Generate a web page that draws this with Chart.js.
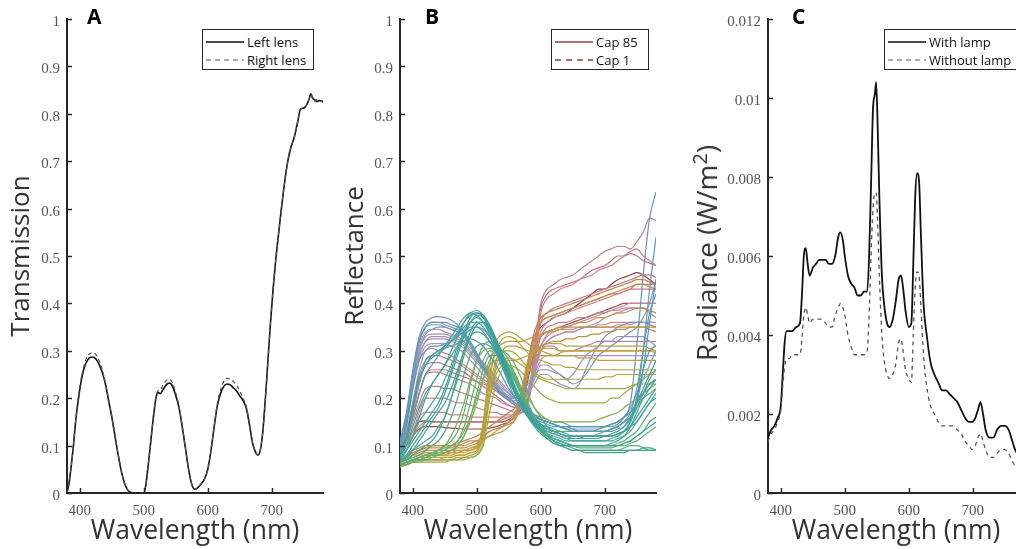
<!DOCTYPE html>
<html><head><meta charset="utf-8">
<script src="https://cdn.jsdelivr.net/npm/chart.js@4.4.0/dist/chart.umd.min.js"></script>
<style>
html,body{margin:0;padding:0;background:#fff;overflow:hidden;width:1016px;height:549px;}
#wrap{position:relative;width:1016px;height:549px;overflow:hidden;background:#fff;}
canvas{position:absolute;top:0;}
.letter{position:absolute;top:6px;font-family:'Open Sans',sans-serif;font-weight:700;font-size:21px;color:#000;line-height:1;}
.legend{position:absolute;top:29px;height:41px;border:1.5px solid #262626;background:#fff;box-sizing:border-box;font-family:'Open Sans',sans-serif;font-size:13px;color:#111;}
.row{position:absolute;left:2px;height:16px;display:flex;align-items:center;white-space:nowrap;}
.row svg{margin-right:2px;display:block;}
.ytitle{position:absolute;font-family:'Open Sans',sans-serif;font-size:28px;color:#333;white-space:nowrap;transform:translate(-50%,-50%) rotate(-90deg);line-height:1;}
.ytitle sup{font-size:20px;vertical-align:10px;line-height:0;}
</style></head><body>
<div id="wrap">
<canvas id="cA" width="340" height="549" style="left:0px"></canvas>
<canvas id="cB" width="340" height="549" style="left:340px"></canvas>
<canvas id="cC" width="360" height="549" style="left:680px"></canvas>
<div class="letter" style="left:87px">A</div>
<div class="letter" style="left:425px">B</div>
<div class="letter" style="left:792px">C</div>
<div class="ytitle" style="left:706px;top:253px">Radiance (W/m<sup>2</sup>)</div>
<div id="legA" class="legend" style="left:202px;width:112px"></div>
<div id="legB" class="legend" style="left:551px;width:98px"></div>
<div id="legC" class="legend" style="left:884px;width:140px"></div>
</div>
<script>
// ---------- shared axis ticks ----------
const xTickVals = [400, 500, 600, 700];
const yTicksAB = [0, 0.1, 0.2, 0.3, 0.4, 0.5, 0.6, 0.7, 0.8, 0.9, 1];
const yTicksC = [0, 0.002, 0.004, 0.006, 0.008, 0.01, 0.012];

// ---------- Panel A: lens transmission ----------
const aWl = [380,383,386,390,394,398,402,406,410,415,420,425,430,435,440,445,450,455,460,465,470,475,480,490,500,503,507,511,515,519,522,526,530,535,540,545,550,555,560,565,570,575,580,585,590,595,600,605,610,615,620,625,630,635,640,645,650,655,660,665,670,675,678,682,686,690,694,698,702,706,710,715,720,725,730,735,740,745,750,755,758,761,764,767,770,775,780];
const aLeft = [0.0,0.02,0.05,0.1,0.157,0.2,0.235,0.26,0.275,0.285,0.287,0.283,0.272,0.255,0.23,0.195,0.16,0.12,0.08,0.045,0.02,0.006,0.001,0.0,0.0,0.015,0.06,0.11,0.16,0.2,0.212,0.21,0.218,0.228,0.232,0.225,0.205,0.18,0.14,0.095,0.05,0.018,0.008,0.012,0.02,0.03,0.05,0.09,0.14,0.185,0.21,0.225,0.23,0.228,0.222,0.215,0.205,0.195,0.18,0.145,0.105,0.085,0.08,0.09,0.13,0.2,0.28,0.36,0.43,0.49,0.54,0.6,0.655,0.7,0.73,0.75,0.78,0.81,0.812,0.82,0.83,0.842,0.832,0.83,0.826,0.828,0.825];
const aRight = [0.0,0.02,0.05,0.1,0.16,0.205,0.24,0.265,0.283,0.293,0.296,0.292,0.28,0.26,0.233,0.198,0.162,0.122,0.082,0.046,0.02,0.006,0.001,0.0,0.0,0.015,0.06,0.11,0.16,0.205,0.215,0.218,0.228,0.237,0.24,0.232,0.21,0.183,0.142,0.096,0.05,0.018,0.008,0.012,0.02,0.03,0.05,0.09,0.142,0.19,0.218,0.235,0.242,0.24,0.235,0.227,0.215,0.2,0.183,0.147,0.106,0.086,0.081,0.091,0.13,0.2,0.28,0.36,0.43,0.49,0.54,0.6,0.655,0.7,0.73,0.75,0.78,0.81,0.812,0.82,0.83,0.84,0.835,0.826,0.83,0.826,0.828];

// ---------- Panel B: reflectance spectra (380..780 nm, 10 nm steps) ----------
const bWl = [380,390,400,410,420,430,440,450,460,470,480,490,500,510,520,530,540,550,560,570,580,590,600,610,620,630,640,650,660,670,680,690,700,710,720,730,740,750,760,770,780];
const teal1 = [.08,.12,.18,.24,.27,.29,.3,.31,.32,.34,.36,.375,.38,.37,.345,.31,.275,.24,.21,.185,.165,.15,.14,.135,.13,.125,.12,.12,.12,.12,.12,.12,.12,.125,.13,.14,.16,.19,.22,.25,.28];
const teal2 = [.07,.1,.14,.18,.21,.23,.25,.27,.3,.33,.36,.38,.385,.375,.35,.315,.28,.245,.215,.19,.17,.155,.145,.14,.135,.13,.125,.12,.12,.12,.12,.12,.12,.12,.125,.13,.14,.16,.18,.2,.22];
const teal3 = [.07,.09,.12,.15,.17,.19,.21,.24,.27,.31,.34,.36,.37,.36,.34,.31,.28,.25,.22,.19,.165,.15,.14,.13,.125,.12,.115,.11,.11,.11,.11,.11,.11,.11,.115,.12,.13,.15,.17,.19,.21];
const teal4 = [.07,.08,.1,.12,.14,.16,.18,.21,.25,.29,.33,.36,.375,.37,.35,.32,.285,.25,.215,.185,.16,.145,.13,.12,.115,.11,.105,.1,.1,.1,.1,.1,.1,.1,.1,.105,.11,.12,.13,.14,.15];
const teal5 = [.08,.12,.19,.25,.28,.29,.3,.305,.31,.315,.32,.325,.32,.31,.29,.27,.245,.22,.2,.18,.165,.155,.15,.145,.14,.14,.14,.14,.14,.14,.14,.14,.14,.145,.15,.16,.17,.19,.21,.23,.24];
const teal6 = [.07,.09,.11,.13,.15,.17,.19,.22,.26,.3,.34,.37,.38,.375,.355,.325,.29,.255,.22,.19,.165,.145,.13,.12,.11,.105,.1,.095,.09,.09,.09,.09,.09,.09,.09,.09,.09,.09,.095,.095,.09];
const teal7 = [.065,.075,.09,.1,.11,.12,.14,.16,.2,.24,.29,.33,.355,.36,.35,.325,.295,.26,.225,.195,.17,.15,.135,.125,.12,.115,.11,.11,.11,.11,.11,.11,.11,.115,.12,.13,.15,.18,.21,.24,.26];
const teal8 = [.09,.14,.22,.28,.3,.31,.31,.315,.32,.33,.34,.35,.35,.34,.32,.295,.265,.235,.21,.19,.175,.165,.155,.15,.145,.14,.135,.135,.13,.13,.13,.13,.13,.135,.14,.15,.17,.22,.3,.38,.42];
const teal9 = [.07,.09,.12,.16,.2,.23,.25,.27,.29,.31,.33,.345,.35,.345,.33,.305,.275,.245,.215,.19,.17,.155,.145,.135,.13,.125,.12,.115,.115,.115,.115,.115,.12,.12,.125,.13,.14,.15,.17,.19,.2];
const teal10 = [.065,.075,.09,.11,.13,.15,.17,.19,.22,.26,.3,.33,.34,.335,.32,.3,.27,.24,.21,.185,.16,.14,.125,.115,.105,.1,.095,.09,.09,.085,.085,.085,.085,.085,.085,.085,.09,.09,.09,.09,.09];
const teal11 = [.065,.07,.08,.09,.1,.11,.13,.16,.2,.25,.3,.34,.36,.36,.345,.32,.29,.255,.22,.19,.165,.145,.13,.12,.11,.105,.1,.1,.1,.1,.1,.1,.1,.105,.11,.12,.14,.17,.2,.22,.24];
const teal12 = [.075,.11,.16,.21,.25,.27,.29,.31,.33,.35,.37,.38,.375,.36,.335,.3,.265,.23,.2,.18,.16,.145,.135,.13,.125,.12,.115,.115,.115,.12,.12,.12,.12,.12,.125,.13,.15,.2,.26,.3,.31];
const teal13 = [.08,.12,.18,.24,.27,.285,.295,.305,.32,.335,.35,.36,.36,.35,.33,.3,.27,.24,.215,.195,.18,.165,.155,.15,.145,.14,.135,.13,.13,.13,.13,.13,.13,.135,.14,.15,.16,.19,.26,.36,.45];
const green1 = [.06,.065,.07,.075,.08,.085,.09,.1,.11,.13,.17,.23,.28,.31,.32,.315,.3,.28,.25,.22,.19,.16,.14,.125,.115,.11,.105,.1,.1,.1,.1,.1,.1,.1,.105,.11,.12,.13,.15,.17,.19];
const green2 = [.06,.065,.07,.07,.075,.08,.085,.09,.1,.11,.14,.19,.24,.28,.3,.3,.29,.27,.245,.215,.185,.16,.14,.125,.115,.11,.105,.1,.095,.095,.095,.095,.095,.095,.1,.1,.105,.11,.12,.13,.14];
const green3 = [.065,.07,.075,.08,.09,.1,.11,.13,.16,.2,.25,.29,.31,.315,.31,.3,.285,.265,.24,.21,.18,.155,.135,.12,.11,.1,.095,.09,.09,.09,.09,.09,.09,.09,.09,.095,.1,.1,.095,.09,.09];
const green4 = [.06,.065,.07,.075,.08,.085,.09,.095,.1,.11,.13,.16,.2,.24,.27,.28,.28,.27,.25,.22,.2,.18,.165,.155,.15,.15,.15,.15,.15,.15,.15,.155,.16,.165,.17,.18,.19,.2,.21,.22,.23];
const green5 = [.06,.065,.07,.07,.075,.08,.08,.085,.09,.1,.12,.15,.19,.24,.28,.3,.3,.29,.27,.24,.21,.18,.16,.14,.13,.125,.12,.12,.12,.12,.12,.125,.13,.135,.14,.15,.16,.18,.2,.21,.22];
const green6 = [.06,.06,.065,.07,.07,.075,.08,.085,.09,.1,.12,.16,.21,.26,.29,.29,.28,.26,.235,.205,.175,.15,.13,.115,.105,.1,.1,.1,.1,.1,.1,.1,.1,.1,.1,.105,.11,.12,.13,.15,.16];
const green7 = [.06,.065,.065,.07,.075,.08,.09,.1,.12,.15,.19,.24,.28,.3,.305,.3,.285,.26,.235,.205,.18,.16,.145,.135,.13,.13,.13,.13,.13,.13,.13,.135,.14,.145,.15,.16,.17,.19,.21,.23,.24];
const olive1 = [.06,.065,.07,.075,.075,.075,.075,.075,.075,.08,.08,.085,.09,.15,.27,.32,.335,.34,.335,.325,.315,.305,.3,.295,.29,.29,.29,.29,.285,.285,.285,.28,.28,.28,.28,.28,.28,.28,.28,.28,.28];
const olive2 = [.055,.06,.065,.07,.07,.07,.07,.07,.07,.075,.075,.08,.085,.13,.24,.3,.325,.33,.325,.31,.295,.285,.28,.275,.27,.27,.265,.265,.26,.26,.26,.26,.26,.26,.26,.26,.26,.26,.26,.26,.26];
const olive3 = [.06,.065,.07,.075,.08,.08,.08,.08,.085,.085,.09,.09,.095,.12,.2,.27,.3,.31,.31,.305,.3,.295,.29,.29,.29,.295,.3,.3,.3,.3,.3,.3,.3,.3,.3,.3,.3,.3,.3,.3,.3];
const olive4 = [.055,.06,.065,.065,.07,.07,.07,.07,.07,.07,.075,.075,.08,.11,.2,.26,.28,.285,.28,.27,.26,.25,.24,.235,.23,.225,.22,.22,.22,.22,.22,.22,.22,.22,.22,.22,.225,.23,.23,.23,.23];
const olive5 = [.055,.06,.065,.065,.065,.065,.065,.065,.07,.07,.07,.075,.08,.1,.17,.23,.26,.27,.265,.255,.24,.225,.21,.2,.195,.19,.19,.19,.19,.19,.19,.19,.19,.2,.2,.21,.22,.23,.24,.25,.26];
const olive6 = [.06,.065,.07,.075,.08,.08,.08,.08,.08,.085,.085,.09,.1,.14,.25,.3,.315,.32,.32,.32,.325,.33,.335,.34,.34,.345,.345,.345,.35,.35,.35,.35,.35,.35,.35,.35,.35,.35,.35,.35,.35];
const olive7 = [.06,.06,.065,.07,.07,.07,.07,.075,.075,.08,.08,.085,.09,.12,.22,.28,.3,.3,.295,.28,.265,.255,.245,.24,.24,.24,.24,.24,.24,.24,.24,.24,.245,.245,.25,.25,.25,.25,.25,.25,.25];
const olive8 = [.065,.07,.075,.08,.085,.085,.085,.085,.085,.09,.09,.095,.1,.13,.2,.25,.27,.28,.28,.285,.29,.3,.31,.315,.315,.315,.31,.31,.31,.31,.31,.31,.31,.31,.31,.31,.31,.31,.31,.305,.3];
const orange1 = [.07,.08,.09,.095,.1,.1,.1,.1,.1,.1,.105,.11,.11,.12,.13,.135,.14,.15,.16,.19,.27,.33,.36,.37,.375,.38,.385,.39,.395,.4,.405,.41,.415,.42,.425,.43,.435,.44,.44,.435,.43];
const orange2 = [.07,.075,.085,.09,.095,.095,.095,.095,.095,.1,.1,.105,.11,.115,.12,.125,.13,.14,.155,.19,.26,.31,.33,.34,.345,.35,.35,.355,.36,.36,.365,.37,.37,.375,.38,.38,.385,.39,.39,.385,.38];
const orange3 = [.065,.07,.08,.085,.09,.09,.09,.09,.09,.095,.095,.1,.105,.12,.13,.135,.14,.145,.155,.19,.25,.29,.31,.315,.32,.32,.325,.325,.33,.33,.335,.335,.34,.34,.345,.345,.35,.35,.35,.345,.34];
const orange4 = [.065,.07,.08,.08,.085,.085,.085,.085,.09,.09,.09,.095,.1,.11,.12,.13,.14,.15,.17,.22,.28,.3,.305,.305,.305,.3,.3,.3,.3,.3,.3,.3,.3,.3,.3,.3,.3,.3,.3,.3,.295];
const orange5 = [.07,.075,.085,.09,.095,.1,.1,.1,.1,.105,.11,.115,.12,.13,.14,.15,.16,.17,.18,.21,.28,.34,.37,.38,.385,.39,.395,.4,.405,.41,.415,.42,.425,.43,.435,.44,.445,.45,.45,.445,.44];
const blue1 = [.11,.17,.26,.33,.36,.37,.372,.37,.365,.355,.34,.32,.295,.27,.245,.225,.21,.2,.19,.18,.17,.165,.16,.155,.15,.15,.145,.14,.14,.14,.14,.14,.14,.14,.145,.16,.19,.31,.46,.58,.635];
const blue2 = [.1,.15,.24,.32,.35,.36,.36,.36,.355,.35,.335,.315,.29,.265,.24,.22,.205,.195,.185,.175,.165,.16,.155,.15,.145,.14,.135,.13,.13,.13,.13,.13,.13,.13,.135,.14,.155,.2,.3,.43,.54];
const blue3 = [.1,.16,.25,.32,.35,.355,.355,.35,.345,.34,.33,.31,.285,.26,.24,.22,.21,.2,.2,.21,.23,.25,.26,.26,.255,.25,.24,.23,.235,.25,.27,.29,.3,.31,.32,.33,.34,.35,.37,.4,.45];
const blue4 = [.09,.14,.22,.3,.335,.345,.35,.35,.345,.34,.33,.315,.295,.27,.25,.23,.215,.2,.19,.18,.17,.16,.155,.15,.145,.14,.14,.135,.135,.135,.135,.135,.14,.145,.15,.16,.18,.21,.24,.27,.3];
const blue5 = [.1,.16,.25,.32,.35,.36,.36,.355,.35,.345,.335,.315,.29,.265,.245,.225,.21,.2,.2,.2,.21,.23,.25,.25,.24,.23,.225,.22,.23,.26,.29,.31,.33,.34,.35,.355,.36,.36,.36,.355,.35];
const lav1 = [.1,.16,.24,.3,.33,.335,.335,.335,.33,.325,.315,.3,.285,.27,.255,.24,.225,.21,.2,.2,.215,.26,.31,.335,.345,.35,.35,.35,.35,.35,.35,.35,.35,.35,.355,.355,.355,.36,.36,.36,.36];
const lav2 = [.1,.15,.23,.29,.32,.33,.33,.33,.325,.32,.31,.295,.28,.265,.25,.235,.22,.21,.2,.2,.22,.27,.3,.31,.31,.3,.3,.3,.305,.31,.315,.32,.32,.32,.32,.32,.32,.32,.32,.32,.32];
const lav3 = [.1,.15,.23,.29,.32,.325,.325,.325,.32,.315,.305,.29,.275,.26,.245,.23,.215,.205,.2,.2,.21,.24,.27,.27,.26,.25,.24,.25,.27,.29,.3,.31,.32,.32,.33,.33,.33,.33,.33,.32,.31];
const lav4 = [.1,.15,.22,.28,.31,.315,.315,.315,.31,.305,.295,.28,.265,.25,.235,.22,.21,.2,.195,.195,.21,.25,.28,.29,.29,.29,.29,.29,.29,.29,.29,.29,.29,.29,.29,.29,.29,.29,.29,.29,.29];
const lav5 = [.1,.16,.25,.31,.34,.345,.345,.34,.335,.33,.32,.305,.29,.275,.26,.245,.23,.215,.205,.205,.22,.26,.3,.32,.33,.335,.34,.34,.345,.35,.355,.36,.37,.375,.38,.385,.39,.39,.39,.38,.37];
const pink1 = [.09,.12,.16,.21,.25,.26,.26,.26,.255,.25,.245,.24,.235,.23,.225,.215,.205,.195,.185,.18,.2,.3,.4,.43,.44,.45,.455,.46,.47,.48,.49,.5,.51,.515,.52,.52,.515,.53,.55,.58,.575];
const pink2 = [.09,.12,.17,.23,.28,.29,.29,.285,.28,.275,.265,.255,.245,.235,.225,.215,.205,.195,.185,.18,.19,.28,.38,.41,.42,.43,.435,.44,.45,.455,.46,.47,.475,.48,.49,.5,.51,.515,.5,.49,.48];
const pink3 = [.09,.11,.15,.19,.22,.225,.225,.22,.22,.215,.21,.205,.2,.195,.19,.185,.18,.175,.17,.17,.19,.28,.36,.38,.39,.395,.4,.405,.41,.415,.42,.425,.43,.435,.44,.445,.45,.455,.46,.46,.455];
const pink4 = [.09,.11,.13,.16,.17,.17,.17,.17,.165,.165,.165,.16,.16,.16,.16,.16,.16,.16,.165,.17,.2,.28,.34,.36,.37,.375,.38,.385,.39,.395,.4,.405,.41,.415,.42,.425,.43,.44,.44,.44,.44];
const pink5 = [.09,.12,.16,.21,.25,.255,.255,.25,.245,.24,.235,.23,.22,.21,.205,.2,.19,.185,.18,.18,.2,.27,.33,.35,.355,.36,.36,.365,.37,.37,.375,.38,.38,.385,.385,.39,.39,.39,.39,.385,.38];
const pink6 = [.08,.1,.13,.17,.2,.2,.2,.2,.195,.19,.19,.185,.18,.175,.17,.17,.165,.165,.165,.17,.19,.25,.3,.32,.33,.335,.34,.34,.345,.35,.35,.355,.355,.36,.36,.36,.36,.36,.36,.355,.35];
const pink7 = [.09,.12,.17,.23,.27,.275,.275,.27,.265,.26,.255,.245,.235,.225,.215,.205,.195,.185,.18,.18,.2,.3,.39,.42,.43,.435,.44,.445,.45,.46,.47,.475,.48,.49,.5,.5,.505,.5,.49,.485,.48];
const pink8 = [.09,.13,.19,.26,.3,.305,.3,.295,.29,.28,.27,.26,.25,.24,.23,.22,.21,.2,.19,.185,.2,.26,.31,.33,.34,.345,.35,.355,.36,.365,.37,.375,.38,.385,.39,.395,.4,.4,.4,.4,.4];
const pink9 = [.085,.1,.12,.14,.15,.15,.15,.15,.15,.15,.15,.15,.15,.15,.15,.15,.155,.16,.17,.19,.25,.32,.36,.37,.375,.38,.385,.39,.395,.4,.405,.41,.415,.42,.42,.425,.43,.43,.43,.43,.43];
const maroon1 = [.09,.11,.13,.15,.152,.15,.15,.15,.15,.15,.15,.15,.15,.15,.15,.15,.15,.155,.165,.2,.27,.33,.35,.36,.37,.375,.38,.39,.4,.41,.42,.43,.43,.44,.45,.455,.46,.465,.46,.45,.44];
const maroon2 = [.08,.1,.12,.135,.14,.14,.14,.138,.137,.136,.135,.135,.135,.135,.137,.14,.145,.15,.16,.18,.24,.3,.33,.34,.345,.35,.355,.36,.365,.37,.375,.38,.385,.39,.395,.4,.4,.4,.4,.4,.4];

// series drawing order and colours
const bSeries = [
  [teal1,'#3f9fa0'],[teal2,'#3aa196'],[teal3,'#44a89a'],[teal4,'#3b9f9c'],[teal5,'#4b9db0'],
  [teal6,'#37a593'],[teal7,'#43a78f'],[teal8,'#5a9ab8'],[teal9,'#40a2a4'],[teal10,'#3ba88d'],
  [teal11,'#3da58f'],[teal12,'#46a0a6'],[teal13,'#5896b4'],
  [green1,'#5bad78'],[green2,'#62b06c'],[green3,'#4fab7f'],[green4,'#86ad4e'],[green5,'#6db066'],
  [green6,'#58ae72'],[green7,'#7aae58'],
  [olive1,'#b7a23a'],[olive2,'#aca43c'],[olive3,'#c09c3e'],[olive4,'#a4a83f'],[olive5,'#9cab45'],[olive6,'#c4983f'],
  [olive7,'#b2a63c'],[olive8,'#bd9e40'],
  [orange1,'#c48a4c'],[orange2,'#c89346'],[orange3,'#b98f42'],[orange4,'#c0a040'],[orange5,'#c2844e'],
  [blue1,'#6b92bd'],[blue2,'#5d9ab8'],[blue3,'#7c95c0'],[blue4,'#7e9cc4'],[blue5,'#8898c2'],
  [lav1,'#a68fba'],[lav2,'#b08db0'],[lav3,'#9d93c0'],[lav4,'#b58fae'],[lav5,'#a991b8'],
  [pink1,'#c97b80'],[pink2,'#cc7f86'],[pink3,'#c4788a'],[pink4,'#cf8585'],
  [pink5,'#c77d90'],[pink6,'#d08888'],[pink7,'#c2747a'],[pink8,'#c88898'],[pink9,'#c6807c'],
  [maroon1,'#8c3f40'],[maroon2,'#9a4a48']
];

// ---------- Panel C: radiance ----------
const cWl = [380,385,390,395,400,403,406,409,413,418,424,430,433,436,439,442,445,450,455,460,465,470,475,480,485,490,493,497,500,505,510,515,520,525,530,535,538,541,544,547,549,551,554,558,562,566,570,575,580,584,588,591,595,600,604,607,610,613,616,619,623,628,634,640,646,652,658,664,670,676,682,688,694,699,704,708,712,716,720,726,732,738,744,750,756,762,766,770,775,780];
const cWith = [0.0014,0.0016,0.0017,0.0019,0.0022,0.003,0.0038,0.0041,0.0041,0.0041,0.0042,0.0043,0.005,0.006,0.0062,0.0058,0.0055,0.0057,0.0058,0.0059,0.0059,0.0059,0.0058,0.0058,0.006,0.0065,0.0066,0.0064,0.006,0.0055,0.0053,0.0052,0.005,0.005,0.0051,0.0051,0.006,0.0078,0.0097,0.0101,0.0104,0.0095,0.0075,0.0055,0.0047,0.0043,0.0042,0.0044,0.0049,0.0054,0.0055,0.0052,0.0046,0.0042,0.0043,0.0058,0.0075,0.0081,0.0079,0.0065,0.0048,0.004,0.0033,0.003,0.0028,0.0026,0.0026,0.0025,0.0024,0.0023,0.0021,0.0019,0.0018,0.0018,0.0019,0.0021,0.0023,0.002,0.0016,0.0014,0.0014,0.0016,0.0017,0.0017,0.0016,0.0013,0.0011,0.001,0.001,0.0009];
const cWithout = [0.0013,0.0015,0.0016,0.0018,0.0021,0.0027,0.0032,0.0034,0.0034,0.0035,0.0035,0.0035,0.0039,0.0045,0.0047,0.0045,0.0043,0.0044,0.0044,0.0044,0.0044,0.0043,0.0042,0.0042,0.0045,0.0047,0.0048,0.0047,0.0045,0.004,0.0037,0.0035,0.0035,0.0035,0.0035,0.0036,0.0045,0.006,0.0072,0.0076,0.0076,0.007,0.0055,0.004,0.0033,0.003,0.0029,0.003,0.0033,0.0038,0.0039,0.0036,0.0031,0.0029,0.0028,0.004,0.0052,0.0056,0.0055,0.0047,0.0035,0.0027,0.0022,0.002,0.0018,0.0017,0.0017,0.0017,0.0017,0.0016,0.0015,0.0013,0.0012,0.0011,0.0012,0.0014,0.0015,0.0013,0.0011,0.0009,0.0009,0.001,0.0011,0.0011,0.001,0.0008,0.0007,0.0007,0.0007,0.0007];

// ---------- helpers ----------
const AXIS = '#262626';
const pts = (xs, ys) => xs.map((x, i) => ({x, y: ys[i]}));
const fmt = v => String(parseFloat(Number(v).toFixed(4)));

const inwardTicks = {
  id: 'inwardTicks',
  afterDraw(chart) {
    const {ctx, chartArea: ca, scales: {x, y}} = chart;
    ctx.save();
    ctx.strokeStyle = AXIS; ctx.lineWidth = 1.5;
    x.ticks.forEach(t => { const p = Math.round(x.getPixelForValue(t.value)) + 0.5; ctx.beginPath(); ctx.moveTo(p, ca.bottom); ctx.lineTo(p, ca.bottom - 5); ctx.stroke(); });
    y.ticks.forEach(t => { const p = Math.round(y.getPixelForValue(t.value)) + 0.5; ctx.beginPath(); ctx.moveTo(ca.left, p); ctx.lineTo(ca.left + 5, p); ctx.stroke(); });
    ctx.restore();
  }
};

function xScale() {
  return {
    type: 'linear', min: 380, max: 780,
    afterBuildTicks: s => { s.ticks = xTickVals.map(v => ({value: v})); },
    afterFit: s => { s.height = 56; },
    grid: {display: false, drawTicks: false},
    border: {display: true, color: AXIS, width: 2},
    ticks: {font: {family: 'Liberation Serif', size: 15}, color: '#555', padding: 9, maxRotation: 0, autoSkip: false, callback: v => String(v)},
    title: {display: true, text: 'Wavelength (nm)', font: {family: 'Open Sans', size: 26.5}, color: '#333', padding: {top: 0, bottom: 2}}
  };
}
function yScale(tickVals, max, width, titleText, titlePad) {
  return {
    type: 'linear', min: 0, max: max,
    afterBuildTicks: s => { s.ticks = tickVals.map(v => ({value: v})); },
    afterFit: s => { s.width = width; },
    grid: {display: false, drawTicks: false},
    border: {display: true, color: AXIS, width: 2},
    ticks: {font: {family: 'Liberation Serif', size: 15}, color: '#555', padding: 7, labelOffset: 3, autoSkip: false, callback: v => fmt(v)},
    title: {display: !!titleText, text: titleText || '', font: {family: 'Open Sans', size: 26}, color: '#333', padding: {top: titlePad, bottom: 0}}
  };
}
function baseOptions(yCfg, padRight) {
  return {
    responsive: false, animation: false, devicePixelRatio: 1,
    layout: {padding: {left: 0, top: 19, right: padRight, bottom: 0}},
    plugins: {legend: {display: false}, tooltip: {enabled: false}},
    elements: {point: {radius: 0}, line: {cubicInterpolationMode: 'monotone'}},
    scales: {x: xScale(), y: yCfg}
  };
}

// ---------- Chart A ----------
new Chart(document.getElementById('cA'), {
  type: 'line',
  data: {datasets: [
    {data: pts(aWl, aRight), borderColor: '#555', borderWidth: 1.2, borderDash: [4, 3]},
    {data: pts(aWl, aLeft), borderColor: '#111', borderWidth: 1.6}
  ]},
  options: baseOptions(yScale(yTicksAB, 1, 67, 'Transmission', 6), 17),
  plugins: [inwardTicks]
});

// ---------- Chart B ----------
new Chart(document.getElementById('cB'), {
  type: 'line',
  data: {datasets: bSeries.map(([vals, col]) => ({data: pts(bWl, vals), borderColor: col, borderWidth: 1.2}))},
  options: baseOptions(yScale(yTicksAB, 1, 60, 'Reflectance', 0), 24),
  plugins: [inwardTicks]
});

// ---------- Chart C ----------
new Chart(document.getElementById('cC'), {
  type: 'line',
  data: {datasets: [
    {data: pts(cWl, cWithout), borderColor: '#555', borderWidth: 1.3, borderDash: [4, 4]},
    {data: pts(cWl, cWith), borderColor: '#111', borderWidth: 1.8}
  ]},
  options: baseOptions(yScale(yTicksC, 0.012, 88, '', 0), 16),
  plugins: [inwardTicks]
});

// ---------- HTML legends ----------
function legend(id, items) {
  const el = document.getElementById(id);
  items.forEach((it, i) => {
    const row = document.createElement('div');
    row.className = 'row';
    row.style.top = (i === 0 ? 4 : 21.5) + 'px';
    row.innerHTML = `<svg width="40" height="4"><line x1="1" y1="2" x2="39" y2="2" stroke="${it.color}" stroke-width="${it.w}" ${it.dash ? `stroke-dasharray="${it.dash}"` : ''}/></svg><span>${it.label}</span>`;
    el.appendChild(row);
  });
}
legend('legA', [{label: 'Left lens', color: '#111', w: 1.6}, {label: 'Right lens', color: '#555', w: 1.2, dash: '5,4'}]);
legend('legB', [{label: 'Cap 85', color: '#b0706c', w: 2}, {label: 'Cap 1', color: '#a86e68', w: 2, dash: '6,5'}]);
legend('legC', [{label: 'With lamp', color: '#111', w: 1.6}, {label: 'Without lamp', color: '#555', w: 1.2, dash: '5,4'}]);
</script>
</body></html>
